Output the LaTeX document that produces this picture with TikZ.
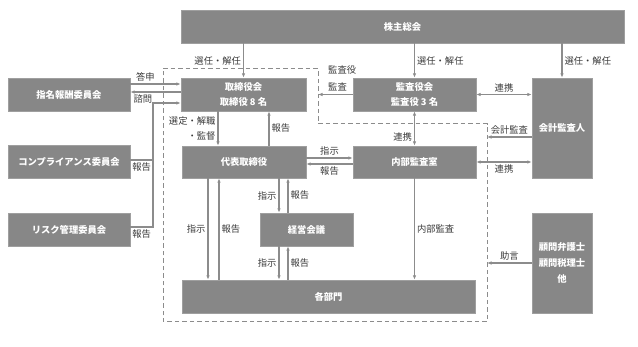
\documentclass[tikz,border=0pt]{standalone}
\usepackage{fontspec}
\setmainfont{Noto Sans CJK JP}
\usetikzlibrary{arrows.meta}
\definecolor{boxgray}{HTML}{878787}
\definecolor{linegray}{HTML}{8C8C8C}
\definecolor{lblgray}{HTML}{3A3A3A}
\begin{document}
\begin{tikzpicture}[x=1pt, y=-1pt,
	box/.style={rectangle, fill=boxgray, draw=boxgray!80, text=white, font=\fontsize{9.3}{15}\selectfont\bfseries, align=center, inner sep=0pt},
	arr/.style={draw=linegray, line width=1.1pt, -{Latex[length=4.5pt,width=3.5pt]}},
	twoway/.style={draw=linegray, line width=1.1pt, {Latex[length=4.5pt,width=3.5pt]}-{Latex[length=4.5pt,width=3.5pt]}},
	plain/.style={draw=linegray, line width=1.1pt},
	lbl/.style={text=lblgray, font=\fontsize{9.3}{15}\selectfont, inner sep=2pt}]

	\useasboundingbox (0,0) rectangle (638,347);

	% dashed frame
	\coordinate (d1) at (163,69);
	\coordinate (d2) at (318,69);
	\coordinate (d3) at (318,124);
	\coordinate (d4) at (487,124);
	\coordinate (d5) at (487,322);
	\coordinate (d6) at (163,322);
	\draw[linegray, line width=1pt, dash pattern=on 4.5pt off 3pt] (d1) -- (d2) -- (d3) -- (d4) -- (d5) -- (d6) -- cycle;

	\node[box, minimum width=443pt, minimum height=33pt] (soukai) at (402.5,26.5) {株主総会};
	\node[box, minimum width=125pt, minimum height=33pt] (torishimari) at (243.5,94.5) {取締役会\\取締役 8 名};
	\node[box, minimum width=123pt, minimum height=33pt] (kansa) at (414.5,94.5) {監査役会\\監査役 3 名};
	\node[box, minimum width=60pt, minimum height=100pt] (kaikei) at (562,128) {会計監査人};
	\node[box, minimum width=123pt, minimum height=32pt] (naibu) at (414.5,162) {内部監査室};
	\node[box, minimum width=124pt, minimum height=32pt] (daihyo) at (244,162) {代表取締役};
	\node[box, minimum width=93pt, minimum height=33pt] (keiei) at (306.5,229.5) {経営会議};
	\node[box, minimum width=293pt, minimum height=33pt] (kakubu) at (328.5,296.5) {各部門};
	\node[box, minimum width=60pt, minimum height=100pt, font=\fontsize{9.3}{16}\selectfont\bfseries] (komon) at (562,263) {顧問弁護士\\顧問税理士\\他};
	\node[box, minimum width=122pt, minimum height=33pt] (shimei) at (69,94.5) {指名報酬委員会};
	\node[box, minimum width=122pt, minimum height=33pt] (comp) at (69,161.5) {コンプライアンス委員会};
	\node[box, minimum width=122pt, minimum height=33pt] (risk) at (69,229.5) {リスク管理委員会};

	% general meeting
	\draw[arr] (soukai.south -| torishimari.north) -- (torishimari.north) node[lbl, midway, left] {選任・解任};
	\draw[arr] (soukai.south -| kansa.north) -- (kansa.north) node[lbl, midway, right] {選任・解任};
	\draw[arr] (soukai.south -| kaikei.north) -- (kaikei.north) node[lbl, midway, right] {選任・解任};

	% auditors
	\draw[arr] (kansa.west) -- (kansa.west -| d2);
	\node[lbl, anchor=west] (lblkansayaku) at (326,70) {監査役};
	\node[lbl, anchor=west] (lblkansa) at (326,87) {監査};
	\draw[twoway] (kansa.east) -- (kansa.east -| kaikei.west) node[lbl, midway, above] {連携};
	\draw[twoway] (kansa.south) -- (naibu.north) node[lbl, pos=0.75, left] {連携};
	\draw[arr] ([yshift=-9pt]kaikei.west) -- ([yshift=-9pt]kaikei.west -| d4) node[lbl, midway, above] {会計監査};
	\draw[twoway] (naibu.east) -- (naibu.east -| kaikei.west) node[lbl, midway, below] {連携};
	\draw[arr] (komon.west) -- (komon.west -| d4) node[lbl, midway, above] {助言};

	% board and president
	\draw[arr] ([xshift=-25.5pt]torishimari.south) -- ([xshift=-25.5pt]torishimari.south |- daihyo.north) node[lbl, midway, left, align=right] {選定・解職\\・監督};
	\draw[arr] ([xshift=25pt]daihyo.north) -- ([xshift=25pt]daihyo.north |- torishimari.south) node[lbl, midway, right] {報告};
	\draw[arr] ([yshift=4pt]daihyo.east) -- ([yshift=4pt]daihyo.east -| naibu.west) node[lbl, midway, above] {指示};
	\draw[arr] ([yshift=-2pt]naibu.west) -- ([yshift=-2pt]naibu.west -| daihyo.east) node[lbl, midway, below] {報告};
	\draw[arr] (naibu.south) -- (naibu.south |- kakubu.north) node[lbl, midway, right] {内部監査};

	% president, meeting and divisions
	\draw[arr] ([xshift=-36pt]daihyo.south) -- ([xshift=-36pt]daihyo.south |- kakubu.north) node[lbl, midway, left] {指示};
	\draw[arr] ([xshift=-25pt]kakubu.north -| daihyo.south) -- ([xshift=-25pt]daihyo.south) node[lbl, midway, right] {報告};
	\draw[arr] ([xshift=-27.5pt]keiei.north |- daihyo.south) -- ([xshift=-27.5pt]keiei.north) node[lbl, midway, left] {指示};
	\draw[arr] ([xshift=-18.5pt]keiei.north) -- ([xshift=-18.5pt]keiei.north |- daihyo.south) node[lbl, midway, right] {報告};
	\draw[arr] ([xshift=-27.5pt]keiei.south) -- ([xshift=-27.5pt]keiei.south |- kakubu.north) node[lbl, midway, left] {指示};
	\draw[arr] ([xshift=-18.5pt]keiei.south |- kakubu.north) -- ([xshift=-18.5pt]keiei.south) node[lbl, midway, right] {報告};

	% committees
	\draw[arr] ([yshift=10.5pt]shimei.east) -- ([yshift=10.5pt]shimei.east -| torishimari.west) node[lbl, pos=0.3, above] {答申};
	\draw[arr] ([yshift=2.5pt]torishimari.west) -- ([yshift=2.5pt]torishimari.west -| shimei.east) node[lbl, pos=0.75, below] {諮問};
	\coordinate (joint) at (153,103);
	\draw[arr] ([yshift=1.5pt]comp.east) -- ([yshift=1.5pt]comp.east -| joint) node[lbl, midway, below] {報告} -- (joint) -- (joint -| torishimari.west);
	\draw[plain] ([yshift=2.5pt]risk.east) -- ([yshift=2.5pt]risk.east -| joint) node[lbl, midway, below] {報告} -- (joint);

\end{tikzpicture}
\end{document}
